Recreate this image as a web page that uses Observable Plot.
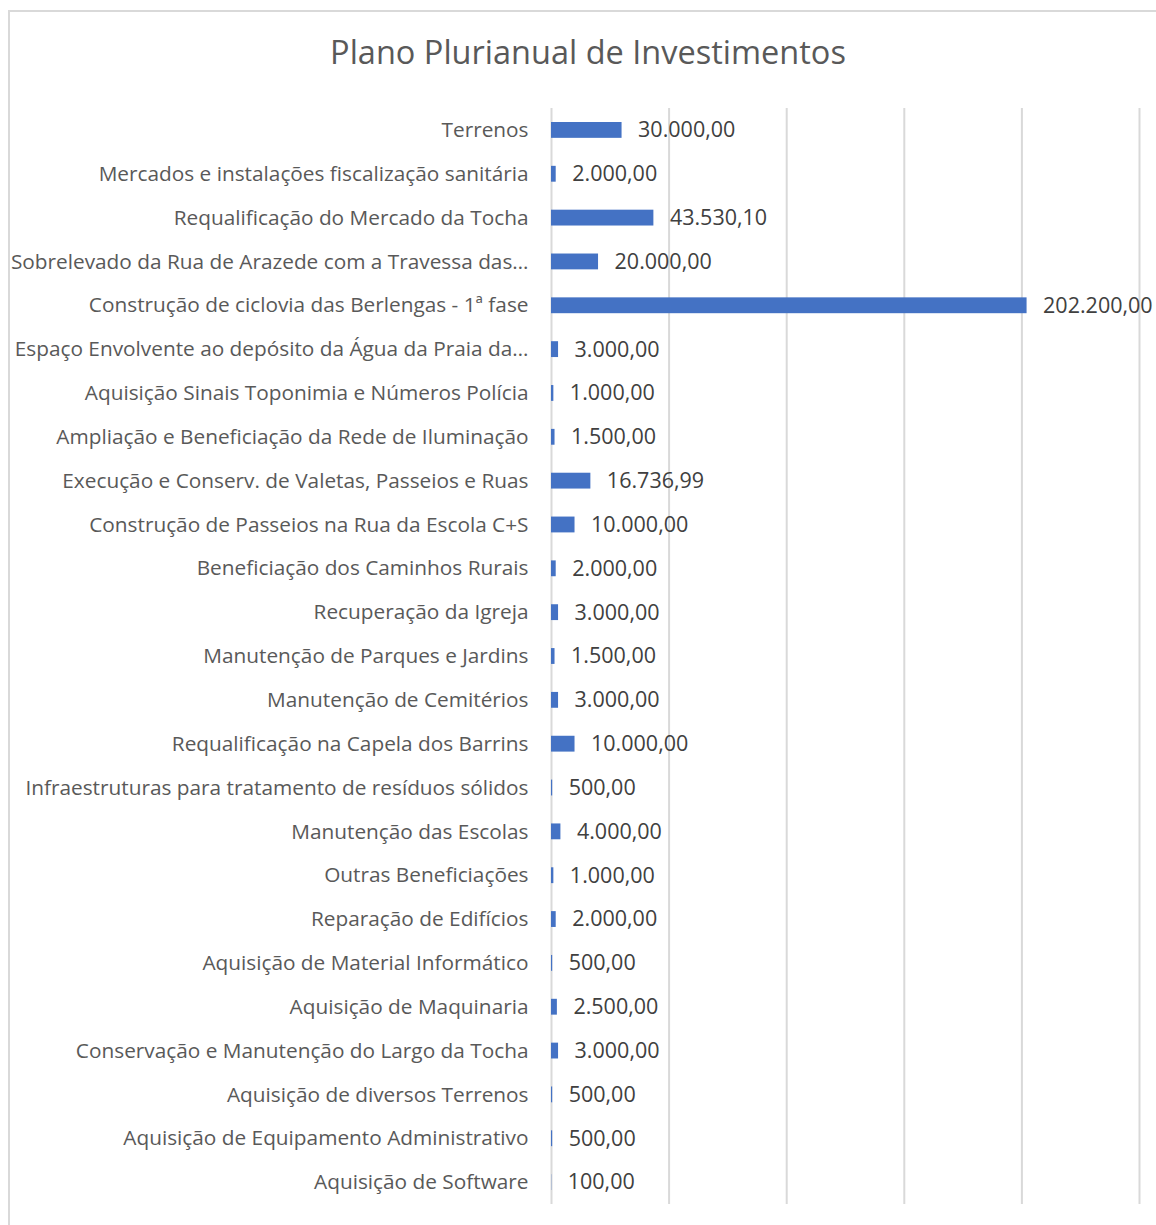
<!DOCTYPE html>
<html>
<head>
<meta charset="utf-8">
<script src="https://cdn.jsdelivr.net/npm/d3@7"></script>
<script src="https://cdn.jsdelivr.net/npm/@observablehq/plot@0.6"></script>
<style>
  html, body { margin: 0; padding: 0; background: #fff; }
  #wrap { position: relative; width: 1156px; height: 1225px; overflow: hidden; font-family: "Open Sans", sans-serif; }
  #frame { position: absolute; left: 8px; top: 10px; width: 1200px; height: 1300px; border: 2px solid #d9d9d9; box-sizing: border-box; }
  #title { position: absolute; left: 0; width: 1176px; top: 29px; text-align: center; font-size: 32.5px; color: #595959; line-height: 46px; }
  #chart { position: absolute; left: 0; top: 0; }
</style>
</head>
<body>
<div id="wrap">
  <div id="frame"></div>
  <div id="title">Plano Plurianual de Investimentos</div>
  <div id="chart"></div>
</div>
<script>
const categories = [
  "Terrenos",
  "Mercados e instalações fiscalização sanitária",
  "Requalificação do Mercado da Tocha",
  "Sobrelevado da Rua de Arazede com a Travessa das…",
  "Construção de ciclovia das Berlengas - 1ª fase",
  "Espaço Envolvente ao depósito da Água da Praia da…",
  "Aquisição Sinais Toponimia e Números Polícia",
  "Ampliação e Beneficiação da Rede de Iluminação",
  "Execução e Conserv. de Valetas, Passeios e Ruas",
  "Construção de Passeios na Rua da Escola C+S",
  "Beneficiação dos Caminhos Rurais",
  "Recuperação da Igreja",
  "Manutenção de Parques e Jardins",
  "Manutenção de Cemitérios",
  "Requalificação na Capela dos Barrins",
  "Infraestruturas para tratamento de resíduos sólidos",
  "Manutenção das Escolas",
  "Outras Beneficiações",
  "Reparação de Edifícios",
  "Aquisição de Material Informático",
  "Aquisição de Maquinaria",
  "Conservação e Manutenção do Largo da Tocha",
  "Aquisição de diversos Terrenos",
  "Aquisição de Equipamento Administrativo",
  "Aquisição de Software"
];
const values = [
  30000, 2000, 43530.10, 20000, 202200, 3000, 1000, 1500, 16736.99, 10000,
  2000, 3000, 1500, 3000, 10000, 500, 4000, 1000, 2000, 500,
  2500, 3000, 500, 500, 100
];
const gridTicks = [0, 50000, 100000, 150000, 200000, 250000];

const data = categories.map((c, i) => ({category: c, value: values[i]}));
const pt = d3.formatLocale({decimal: ",", thousands: ".", grouping: [3], currency: ["", ""]});
const fmt = pt.format(",.2f");

const chart = Plot.plot({
  width: 1156,
  height: 1225,
  marginTop: 108,
  marginBottom: 21,
  marginLeft: 551,
  marginRight: 17,
  style: {fontFamily: "'Open Sans', sans-serif", fontSize: "20.8px", background: "transparent", overflow: "visible"},
  x: {domain: [0, 250000], axis: null},
  y: {domain: categories, padding: 0, round: false, label: null, tickSize: 0, tickPadding: 23},
  marks: [
    Plot.ruleX(gridTicks, {stroke: "#d9d9d9", strokeWidth: 2, strokeOpacity: 1}),
    Plot.barX(data, {x: "value", y: "category", fill: "#4472C4", insetTop: 14, insetBottom: 14}),
    Plot.text(data, {x: "value", y: "category", text: d => fmt(d.value), dx: 16, textAnchor: "start", fill: "#404040", fontSize: 21.5}),
    Plot.axisY({tickSize: 0, tickPadding: 23, fontSize: 20.8, color: "#595959", label: null})
  ]
});
document.getElementById("chart").appendChild(chart);
</script>
</body>
</html>
